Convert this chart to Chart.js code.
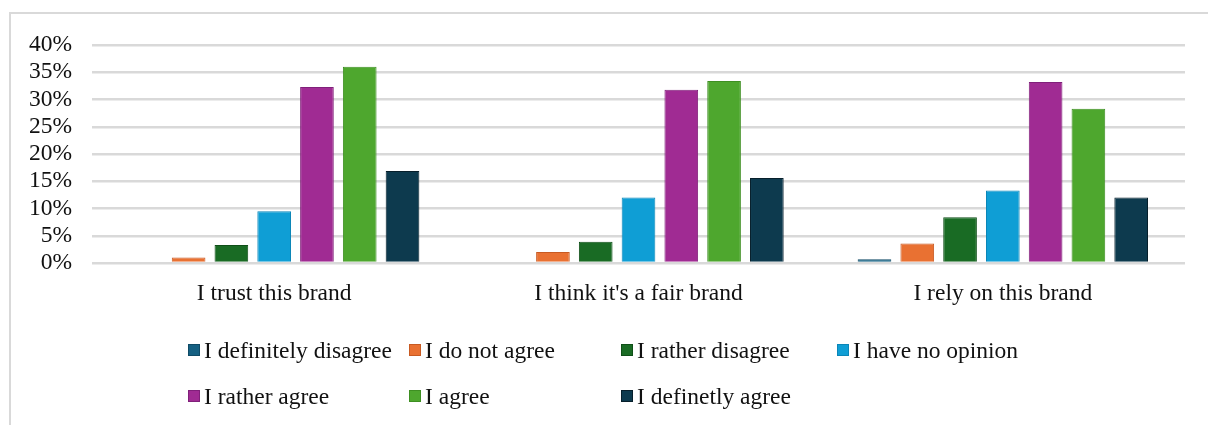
<!DOCTYPE html>
<html>
<head>
<meta charset="utf-8">
<script src="https://cdn.jsdelivr.net/npm/chart.js@4.4.1/dist/chart.umd.min.js"></script>
<style>
  html, body { margin: 0; padding: 0; background: #fff; overflow: hidden; width: 1208px; height: 425px; }
  #frame { position: absolute; left: 9px; top: 12px; width: 1300px; height: 500px; border: 2px solid #d9d9d9; box-sizing: border-box; }
  #wrap { position: absolute; left: 0; top: 0; width: 1208px; height: 425px; }
  #legend { position: absolute; left: 0; top: 0; width: 1208px; height: 425px; pointer-events: none;
            font-family: "Liberation Serif", "DejaVu Serif", serif; font-size: 23.5px; color: #111; }
  .li { position: absolute; display: flex; align-items: center; white-space: nowrap; height: 28px; }
  .li .box { width: 10px; height: 10px; border: 1px solid; margin-right: 4px; flex: none; }
</style>
</head>
<body>
<div id="frame"></div>
<div id="wrap"><canvas id="c" width="1208" height="425"></canvas></div>
<div id="legend"></div>
<script>
const categories = ["I trust this brand", "I think it's a fair brand", "I rely on this brand"];
const seriesNames = ["I definitely disagree", "I do not agree", "I rather disagree", "I have no opinion",
                     "I rather agree", "I agree", "I definetly agree"];
const definitelyDisagree = [0, 0, 0.7];
const doNotAgree = [1.0, 2.0, 3.6];
const ratherDisagree = [3.3, 3.9, 8.4];
const noOpinion = [9.5, 12.0, 13.3];
const ratherAgree = [32.3, 31.8, 33.2];
const agree = [36.0, 33.4, 28.3];
const definitelyAgree = [16.9, 15.6, 12.0];
const yTicks = [0, 5, 10, 15, 20, 25, 30, 35, 40];

const fills = ["#156082", "#E97132", "#196B24", "#0F9ED5", "#A02B93", "#4EA72E", "#0D3A4E"];
const edges = ["#0f4a66", "#c85a22", "#0f4f18", "#0b86b8", "#80207a", "#3e8f22", "#071f2b"];
const seriesData = [definitelyDisagree, doNotAgree, ratherDisagree, noOpinion, ratherAgree, agree, definitelyAgree];

const datasets = seriesNames.map((name, i) => ({
  label: name,
  data: seriesData[i],
  backgroundColor: fills[i],
  borderColor: edges[i],
  borderWidth: 1,
  categoryPercentage: 0.822,
  barPercentage: 0.787
}));

const font = { family: "'Liberation Serif', 'DejaVu Serif', serif", size: 23.5 };

new Chart(document.getElementById('c'), {
  type: 'bar',
  data: { labels: categories, datasets },
  options: {
    responsive: false,
    animation: false,
    layout: { padding: { left: 0, right: 23, top: 45, bottom: 0 } },
    plugins: { legend: { display: false }, tooltip: { enabled: false } },
    scales: {
      x: {
        grid: { display: false, drawTicks: false },
        border: { display: false },
        ticks: { font, color: '#111', padding: 17, maxRotation: 0, autoSkip: false },
        afterFit: s => { s.height = 162; }
      },
      y: {
        min: 0, max: 40,
        afterBuildTicks: s => { s.ticks = yTicks.map(v => ({ value: v })); },
        grid: { color: '#d9d9d9', lineWidth: 2.5, drawTicks: false },
        border: { display: false },
        ticks: { font, color: '#111', padding: 20, autoSkip: false, callback: v => v + '%' },
        afterFit: s => { s.width = 92; }
      }
    }
  }
});

// HTML legend laid out in Excel-style columns
const legendCols = [188, 409, 621, 837];
const legendRows = [350, 396];
const legend = document.getElementById('legend');
seriesNames.forEach((name, i) => {
  const el = document.createElement('div');
  el.className = 'li';
  el.style.left = legendCols[i % 4] + 'px';
  el.style.top = (legendRows[Math.floor(i / 4)] - 14) + 'px';
  el.innerHTML = '<span class="box" style="background:' + fills[i] + ';border-color:' + edges[i] + '"></span><span>' + name + '</span>';
  legend.appendChild(el);
});
</script>
</body>
</html>
